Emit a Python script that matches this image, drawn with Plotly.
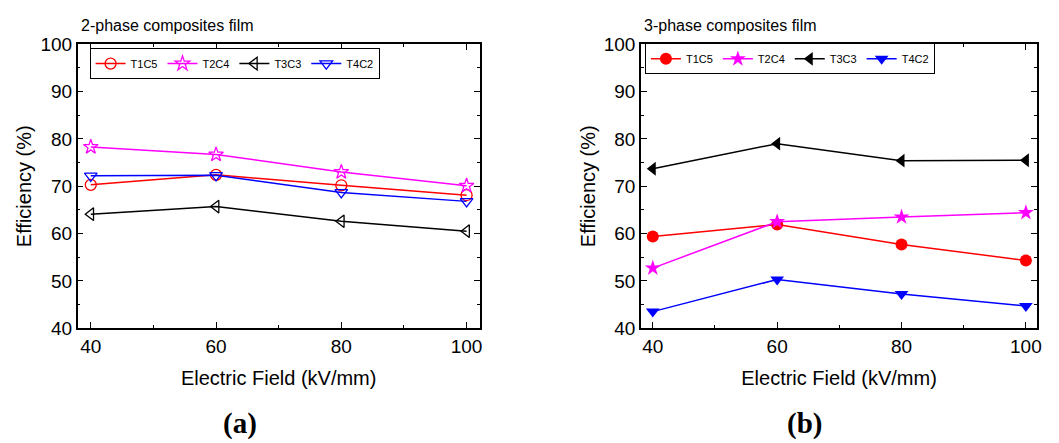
import plotly.graph_objects as go

# Electric field (kV/mm)
field = [40, 60, 80, 100]

# Efficiency (%) of the 2-phase composite films
eff_2phase = {
    "T1C5": [70.3, 72.4, 70.2, 68.1],
    "T2C4": [78.3, 76.7, 73.0, 70.1],
    "T3C3": [64.1, 65.7, 62.6, 60.5],
    "T4C2": [72.2, 72.3, 68.7, 66.8],
}

# Efficiency (%) of the 3-phase composite films
eff_3phase = {
    "T1C5": [59.4, 61.9, 57.7, 54.3],
    "T2C4": [52.7, 62.5, 63.5, 64.4],
    "T3C3": [73.7, 79.0, 75.4, 75.5],
    "T4C2": [43.5, 50.3, 47.2, 44.7],
}

series_names = ["T1C5", "T2C4", "T3C3", "T4C2"]
colors = {"T1C5": "#ff0000", "T2C4": "#ff00ff", "T3C3": "#000000", "T4C2": "#0000ff"}
open_symbols = {"T1C5": "circle-open", "T2C4": "star-open",
                "T3C3": "triangle-left-open", "T4C2": "triangle-down-open"}
filled_symbols = {"T1C5": "circle", "T2C4": "star",
                  "T3C3": "triangle-left", "T4C2": "triangle-down"}

W, H = 1059, 443
FONT = "Arial, Liberation Sans, sans-serif"
SERIF = "Liberation Serif, Times New Roman, serif"

fig = go.Figure()

for name in series_names:
    fig.add_trace(go.Scatter(
        x=field, y=eff_2phase[name], name=name, mode="lines+markers",
        line=dict(color=colors[name], width=1.5),
        marker=dict(symbol=open_symbols[name], size=11, color=colors[name],
                    line=dict(color=colors[name], width=1.3)),
        xaxis="x", yaxis="y", legend="legend",
    ))

for name in series_names:
    fig.add_trace(go.Scatter(
        x=field, y=eff_3phase[name], name=name, mode="lines+markers",
        line=dict(color=colors[name], width=1.5),
        marker=dict(symbol=filled_symbols[name], size=12, color=colors[name],
                    line=dict(width=0)),
        xaxis="x2", yaxis="y2", legend="legend2",
    ))


def px_x(p):
    return p / W


def px_y(p):
    return 1 - p / H


axis_common = dict(
    showline=True, linecolor="black", linewidth=1.5, mirror="allticks",
    ticks="inside", ticklen=6, tickwidth=1.3, tickcolor="black",
    showgrid=False, zeroline=False,
    tickfont=dict(family=FONT, size=19, color="black"),
)

xaxis_common = dict(axis_common, tickvals=[40, 60, 80, 100],
                    minor=dict(ticks="inside", ticklen=3, tickwidth=1.2,
                               tickcolor="black", tickvals=[50, 70, 90]),
                    title=dict(text="Electric Field (kV/mm)",
                               font=dict(family=FONT, size=20, color="black"),
                               standoff=15))
yaxis_common = dict(axis_common, range=[40, 100], tickvals=[40, 50, 60, 70, 80, 90, 100],
                    minor=dict(ticks="inside", ticklen=3, tickwidth=1.2,
                               tickcolor="black", tickvals=[45, 55, 65, 75, 85, 95]),
                    title=dict(text="Efficiency (%)",
                               font=dict(family=FONT, size=20, color="black"),
                               standoff=3))

legend_common = dict(
    orientation="h", xanchor="left", yanchor="top",
    bgcolor="white", bordercolor="black", borderwidth=1,
    font=dict(family=FONT, size=11, color="black"),
    itemwidth=30, tracegroupgap=0,
)

fig.update_layout(
    width=W, height=H,
    margin=dict(l=0, r=0, t=0, b=0),
    paper_bgcolor="white", plot_bgcolor="white",
    showlegend=True,
    xaxis=dict(xaxis_common, domain=[px_x(78), px_x(482)], range=[37.9, 102.1],
               anchor="y"),
    yaxis=dict(yaxis_common, domain=[px_y(334), px_y(36)], anchor="x"),
    xaxis2=dict(xaxis_common, domain=[px_x(644), px_x(1042)], range=[38.1, 101.8],
                anchor="y2"),
    yaxis2=dict(yaxis_common, domain=[px_y(334), px_y(36)], anchor="x2"),
    legend=dict(legend_common, x=px_x(90), y=px_y(40)),
    legend2=dict(legend_common, x=px_x(648), y=px_y(35)),
    annotations=[
        dict(text="2-phase composites film", x=px_x(79), y=px_y(16),
             xref="paper", yref="paper", xanchor="left", yanchor="middle",
             showarrow=False, font=dict(family=FONT, size=16, color="black")),
        dict(text="3-phase composites film", x=px_x(645), y=px_y(16),
             xref="paper", yref="paper", xanchor="left", yanchor="middle",
             showarrow=False, font=dict(family=FONT, size=16, color="black")),
        dict(text="<b>(a)</b>", x=px_x(241), y=px_y(434),
             xref="paper", yref="paper", xanchor="center", yanchor="middle",
             showarrow=False, font=dict(family=SERIF, size=29, color="black")),
        dict(text="<b>(b)</b>", x=px_x(808), y=px_y(434),
             xref="paper", yref="paper", xanchor="center", yanchor="middle",
             showarrow=False, font=dict(family=SERIF, size=29, color="black")),
    ],
)

fig.write_html("out.html")
